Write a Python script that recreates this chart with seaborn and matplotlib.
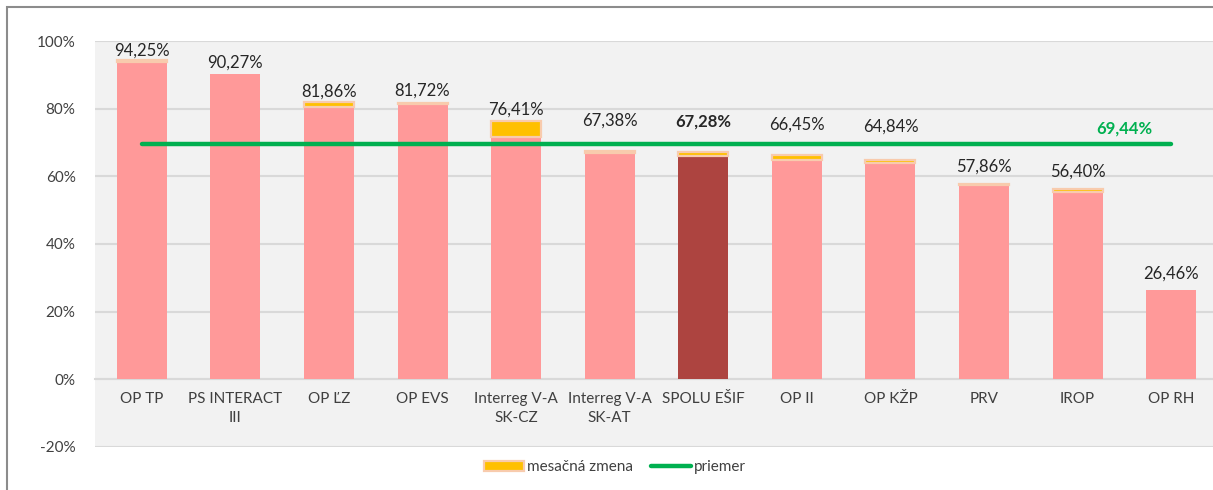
import matplotlib
matplotlib.use('Agg')
import matplotlib.pyplot as plt
from matplotlib.patches import Patch, Rectangle
from matplotlib.lines import Line2D
import seaborn as sns
import pandas as pd

# data
programs = ['OP TP', 'PS INTERACT\nIII', 'OP ĽZ', 'OP EVS', 'Interreg V-A\nSK-CZ',
            'Interreg V-A\nSK-AT', 'SPOLU EŠIF', 'OP II', 'OP KŽP', 'PRV', 'IROP', 'OP RH']
totals = [94.25, 90.27, 81.86, 81.72, 76.41, 67.38, 67.28, 66.45, 64.84, 57.86, 56.40, 26.46]
monthly_change = [0.4, 0.0, 1.3, 0.4, 4.7, 0.4, 1.3, 1.5, 0.9, 0.4, 1.1, 0.0]
average = 69.44
labels = ['94,25%', '90,27%', '81,86%', '81,72%', '76,41%', '67,38%',
          '67,28%', '66,45%', '64,84%', '57,86%', '56,40%', '26,46%']
avg_label = '69,44%'

df = pd.DataFrame({'program': programs, 'total': totals, 'change': monthly_change})
df['base'] = df['total'] - df['change']

sns.set_style('white')
plt.rcParams['font.family'] = ['Lato', 'DejaVu Sans']

fig = plt.figure(figsize=(12.13, 4.9), dpi=100)
ax = fig.add_axes([95 / 1213, 0.0878, 1123 / 1213, 0.8285])
ax.set_facecolor('#f2f2f2')

pink = '#ff9999'
palette = {p: (pink if p != 'SPOLU EŠIF' else '#ad4440') for p in programs}
sns.barplot(data=df, x='program', y='base', hue='program', palette=palette,
            legend=False, width=0.535, saturation=1, linewidth=0, ax=ax, zorder=3)
n_base = len(ax.patches)
sns.barplot(data=df, x='program', y='change', bottom=df['base'].values, color='#ffc000',
            width=0.535, saturation=1, edgecolor='#f8cbad', linewidth=1.6, ax=ax, zorder=4)
for p, ch in zip(ax.patches[n_base:], monthly_change):
    if ch == 0:
        p.set_linewidth(0)

# average line from first to last category
ax.plot([0, len(programs) - 1], [average, average], color='#00b050', lw=3.2,
        solid_capstyle='round', zorder=5)
ax.text(10.5, average + 2.4, avg_label, color='#00b050', fontsize=12,
        fontweight='bold', ha='center', va='bottom', zorder=6)

# value labels (pixel offset above bar tops as in the original)
offsets = [10, 11, 11, 12, 11, 31, 30, 30, 33, 17, 17, 16]
for i, (t, lab, off) in enumerate(zip(totals, labels, offsets)):
    ax.annotate(lab, (i, t), xytext=(0, off), textcoords='offset pixels',
                ha='center', va='center', fontsize=12, color='#262626',
                fontweight='bold' if programs[i] == 'SPOLU EŠIF' else 'normal', zorder=6)

ax.set_xlim(-0.5, len(programs) - 0.5)
ax.set_ylim(-20, 100)
ax.set_yticks(range(-20, 101, 20))
ax.set_yticklabels([f'{v}%' for v in range(-20, 101, 20)], fontsize=11, color='#404040')
ax.yaxis.grid(True, color='#d9d9d9', lw=1.5, zorder=0)
ax.set_axisbelow(True)
for s in ['top', 'right', 'left']:
    ax.spines[s].set_visible(False)
ax.spines['bottom'].set_position(('data', 0))
ax.spines['bottom'].set_color('#d9d9d9')
ax.spines['bottom'].set_linewidth(1.5)
ax.tick_params(axis='both', length=0)
ax.tick_params(axis='y', pad=14)
ax.tick_params(axis='x', pad=9)
ax.set_xticks(range(len(programs)))
ax.set_xticklabels(programs, fontsize=11, color='#404040', linespacing=1.45, va='top')
ax.set_xlabel('')
ax.set_ylabel('')

handles = [Patch(facecolor='#ffc000', edgecolor='#f8cbad', linewidth=1.6),
           Line2D([0], [0], color='#00b050', lw=3.2)]
fig.legend(handles, ['mesačná zmena', 'priemer'], loc='center', bbox_to_anchor=(0.507, 0.046),
           ncol=2, frameon=False, fontsize=11, handlelength=2.6, handletextpad=0.2,
           columnspacing=1.2, labelcolor='#404040')

# outer chart border
fig.patches.append(Rectangle((7 / 1213, -0.1), 1.2, 1 - 7 / 490 + 0.1, transform=fig.transFigure,
                             fill=False, edgecolor='#8c8c8c', lw=1.5))

fig.savefig('out.png', dpi=100)
